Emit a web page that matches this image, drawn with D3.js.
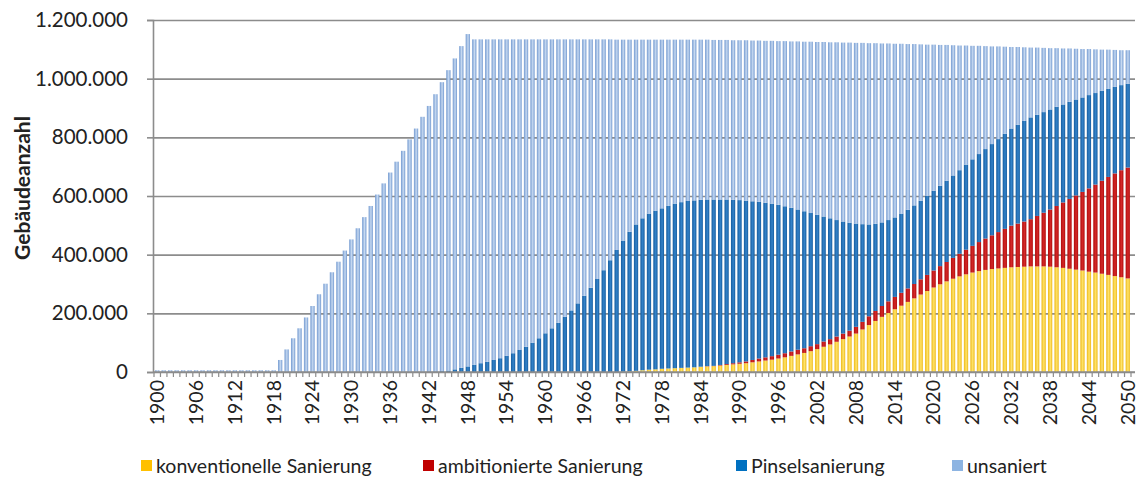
<!DOCTYPE html>
<html><head><meta charset="utf-8">
<script src="https://cdn.jsdelivr.net/npm/d3@7"></script>
<style>
body{margin:0;background:#fff}
svg{display:block}
text{font-family:Lato,"Open Sans",sans-serif;fill:#222}
</style>
</head><body>
<svg id="chart" width="1139" height="488"></svg>
<script>
// Categories: years 1900..2050
const years = d3.range(1900, 2051);
// Values in thousand buildings (Tsd. Gebäude)
const konventionell = [
  0,0,0,0,0,0,0,0,0,0,
  0,0,0,0,0,0,0,0,0,0,
  0,0,0,0,0,0,0,0,0,0,
  0,0,0,0,0,0,0,0,0,0,
  0,0,0,0,0,0,0,0,0,0,
  0,0,0,0,0,0,0,0,0,0,
  0,0,0,0,0,0,0,0,0,0,
  0,0,1,2,4,6,8,9,11,12,
  13,14,15,16,18,19,20,22,24,26,
  28,30,33,36,39,42,46,50,55,60,
  65,71,78,86,94,103,112,121,131,145,
  160,174,188,201,214,226,239,251,264,276,
  288,299,309,318,326,333,339,344,348,351,
  353,355,357,358,359,360,360,360,359,357,
  355,352,349,346,342,339,335,331,327,323,
  319
];
const ambitioniert = [
  0,0,0,0,0,0,0,0,0,0,
  0,0,0,0,0,0,0,0,0,0,
  0,0,0,0,0,0,0,0,0,0,
  0,0,0,0,0,0,0,0,0,0,
  0,0,0,0,0,0,0,0,0,0,
  0,0,0,0,0,0,0,0,0,0,
  0,0,0,0,0,0,0,0,0,0,
  0,0,0,0,0,0,0,0,0,0,
  0,0,0,0,0,1,1,2,3,4,
  5,6,8,10,11,12,13,14,15,16,
  16,17,17,18,18,18,19,20,23,26,
  30,34,37,40,42,44,46,49,52,55,
  58,62,66,71,77,84,91,99,107,115,
  124,133,142,148,154,161,172,183,195,209,
  223,238,253,268,284,300,317,334,350,365,
  378
];
const pinsel = [
  0,0,0,0,0,0,0,0,0,0,
  0,0,0,0,0,0,0,0,0,0,
  0,0,0,0,0,0,0,0,0,0,
  0,0,0,0,0,0,0,0,0,0,
  1,1,2,2,3,5,9,14,19,25,
  30,35,41,47,55,64,75,86,100,115,
  132,149,168,188,210,234,260,287,317,347,
  381,416,447,476,499,518,532,541,547,555,
  561,565,568,569,569,568,567,564,561,557,
  553,548,541,534,527,520,511,501,490,478,
  467,454,441,426,412,397,382,368,352,333,
  313,297,285,277,271,270,268,268,268,270,
  272,274,277,281,285,290,295,300,305,311,
  317,324,331,337,343,347,345,343,341,338,
  334,331,327,322,318,312,307,301,295,290,
  286
];
const unsaniert = [
  6,6,6,6,6,6,6,6,6,6,
  6,6,6,6,6,6,6,6,6,41,
  77,115,149,186,225,265,301,340,376,414,
  452,490,528,566,605,643,680,717,754,793,
  829,869,905,945,985,1024,1060,1097,1133,1109,
  1104,1099,1093,1087,1079,1070,1059,1048,1034,1019,
  1002,985,966,946,924,900,874,847,817,787,
  753,717,685,655,630,609,593,583,575,566,
  559,554,550,548,546,545,544,544,544,544,
  545,547,548,550,552,555,558,563,567,573,
  578,584,589,595,600,606,610,614,616,618,
  618,616,610,602,592,579,565,550,533,515,
  498,480,463,444,425,406,387,369,351,333,
  316,297,278,265,251,238,229,219,209,200,
  191,182,173,165,157,149,140,133,126,119,
  114
];
const seriesKeys = ["konventionell", "ambitioniert", "pinsel", "unsaniert"];
const seriesLabels = ["konventionelle Sanierung", "ambitionierte Sanierung", "Pinselsanierung", "unsaniert"];
const yTickValues = [0, 200000, 400000, 600000, 800000, 1000000, 1200000];
const xTickYears = [1900,1906,1912,1918,1924,1930,1936,1942,1948,1954,1960,1966,1972,1978,1984,1990,1996,2002,2008,2014,2020,2026,2032,2038,2044,2050];
const yTitle = "Gebäudeanzahl";
const UNIT = 1000;

// ---- styles / layout ----
const colors = {
  konventionell: {edge:"#EDB818", mid:"#FFE46A", legend:"#FFC000"},
  ambitioniert:  {edge:"#B00C0C", mid:"#D42828", legend:"#C00000"},
  pinsel:        {edge:"#155C9F", mid:"#3483C9", legend:"#0070C0"},
  unsaniert:     {edge:"#7299D0", mid:"#C6D9F1", legend:"#8DB4E2"}
};
const M = {left:153, right:1135, top:20, bottom:372};
const legendX = [141, 423, 736, 952];

const series = {konventionell, ambitioniert, pinsel, unsaniert};
const data = years.map((yr, i) => {
  const o = {year: yr};
  seriesKeys.forEach(k => o[k] = series[k][i] * UNIT);
  return o;
});
const stacked = d3.stack().keys(seriesKeys)(data);

const svg = d3.select("#chart");
const defs = svg.append("defs");
seriesKeys.forEach(k => {
  const g = defs.append("linearGradient").attr("id", "g_" + k)
    .attr("x1", 0).attr("x2", 1).attr("y1", 0).attr("y2", 0);
  g.append("stop").attr("offset", "0%").attr("stop-color", colors[k].edge);
  g.append("stop").attr("offset", "55%").attr("stop-color", colors[k].mid);
  g.append("stop").attr("offset", "100%").attr("stop-color", colors[k].edge);
});

const x = d3.scaleBand().domain(years).range([M.left + 1, M.right - 4]).paddingInner(0.34).paddingOuter(0.17);
const y = d3.scaleLinear().domain([0, 1200000]).range([M.bottom, M.top]);
const de = d3.formatLocale({decimal: ",", thousands: ".", grouping: [3], currency: ["", "€"]});
const fmt = de.format(",d");

// gridlines
svg.append("g").attr("transform", `translate(${M.left},0)`)
  .call(d3.axisLeft(y).tickValues(yTickValues).tickSize(-(M.right - M.left)).tickFormat(""))
  .call(g => g.select(".domain").remove())
  .call(g => g.selectAll("line").attr("stroke", "#8c8c8c").attr("stroke-width", 1.6));

// bars
svg.append("g").selectAll("g").data(stacked).join("g")
  .attr("fill", d => `url(#g_${d.key})`)
  .selectAll("rect").data(d => d).join("rect")
  .attr("x", d => x(d.data.year))
  .attr("width", x.bandwidth())
  .attr("y", d => y(d[1]))
  .attr("height", d => Math.max(0, y(d[0]) - y(d[1])));

// y axis
svg.append("g").attr("transform", `translate(${M.left},0)`)
  .call(d3.axisLeft(y).tickValues(yTickValues).tickSize(6).tickPadding(19).tickFormat(fmt))
  .call(g => g.select(".domain").attr("stroke", "#8c8c8c").attr("stroke-width", 1.6))
  .call(g => g.selectAll("line").attr("stroke", "#8c8c8c").attr("stroke-width", 1.6))
  .call(g => g.selectAll("text").attr("font-size", 20.5).attr("font-family", "Lato").attr("fill", "#222"));

// x axis baseline + category ticks
const xAxisG = svg.append("g").attr("transform", `translate(0,${M.bottom})`);
xAxisG.append("line").attr("x1", M.left).attr("x2", M.right)
  .attr("stroke", "#8c8c8c").attr("stroke-width", 1.6);
const half = (x.step() - x.bandwidth()) / 2;
const lastEdge = x(years[years.length - 1]) + x.bandwidth() + half;
xAxisG.selectAll("line.tk").data(years.concat([null])).join("line").attr("class", "tk")
  .attr("x1", d => d === null ? lastEdge : x(d) - half)
  .attr("x2", d => d === null ? lastEdge : x(d) - half)
  .attr("y1", 0).attr("y2", 5).attr("stroke", "#8c8c8c").attr("stroke-width", 1.2);

svg.append("g").attr("transform", `translate(0,${M.bottom})`)
  .call(d3.axisBottom(x).tickValues(xTickYears).tickSize(0))
  .call(g => g.select(".domain").remove())
  .call(g => g.selectAll("text")
    .attr("transform", "rotate(-90)")
    .attr("x", -8).attr("y", 0).attr("dy", "0.35em")
    .attr("text-anchor", "end")
    .attr("font-size", 19.5).attr("font-family", "Lato").attr("fill", "#222"));

// y title
svg.append("text")
  .attr("transform", `translate(30,188) rotate(-90)`)
  .attr("text-anchor", "middle")
  .attr("font-size", 21).attr("font-weight", "bold")
  .text(yTitle);

// legend
const lg = svg.append("g").selectAll("g").data(seriesKeys).join("g")
  .attr("transform", (d, i) => `translate(${legendX[i]},0)`);
lg.append("rect").attr("x", 0).attr("y", 460).attr("width", 11).attr("height", 11)
  .attr("fill", d => colors[d].legend);
lg.append("text").attr("x", 15).attr("y", 473)
  .attr("font-size", 19.5)
  .text((d, i) => seriesLabels[i]);
</script>
</body></html>
